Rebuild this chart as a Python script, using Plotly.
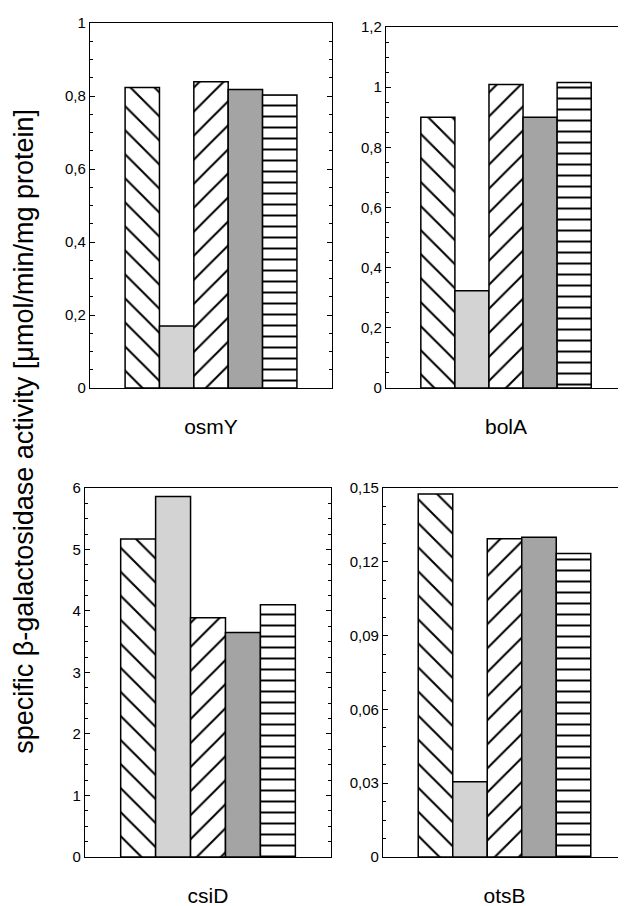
import plotly.graph_objects as go

# ---- data ----
genes = ["osmY", "bolA", "csiD", "otsB"]
osmY_vals = [0.823, 0.17, 0.839, 0.818, 0.803]
bolA_vals = [0.90, 0.323, 1.009, 0.90, 1.016]
csiD_vals = [5.17, 5.86, 3.89, 3.65, 4.10]
otsB_vals = [0.1476, 0.0306, 0.1294, 0.1300, 0.1234]
values = [osmY_vals, bolA_vals, csiD_vals, otsB_vals]

y_ranges = [[0, 1], [0, 1.2], [0, 6], [0, 0.15]]
y_dticks = [0.2, 0.2, 1, 0.03]
y_minor = [0.05, 0.05, 0.25, 0.0075]

y_title = "specific \u03b2-galactosidase activity [\u03bcmol/min/mg protein]"

# ---- styles per bar position ----
shapes = ["\\", "", "/", "", "-"]
fills = ["white", "#d3d3d3", "white", "#a4a4a4", "white"]
psizes = [17, 8, 17, 8, 11]
solid = [0.12, 0.2, 0.12, 0.2, 0.18]

# panel domains (paper coords)
x_domains = [[0.1327, 0.5243], [0.6117, 1.0], [0.1246, 0.5227], [0.6068, 1.0]]
y_domains = [[0.5768, 0.9833], [0.5768, 0.9788], [0.0546, 0.4655], [0.0546, 0.4655]]

FONT = "Liberation Sans, Arial, Helvetica, sans-serif"

fig = go.Figure()
for p, gene in enumerate(genes):
    xa = "x" if p == 0 else f"x{p+1}"
    ya = "y" if p == 0 else f"y{p+1}"
    for i, v in enumerate(values[p]):
        pattern = dict(shape=shapes[i], fgcolor="black", bgcolor=fills[i],
                       size=psizes[i], solidity=solid[i], fillmode="replace")
        fig.add_trace(go.Bar(
            x=[gene], y=[v], xaxis=xa, yaxis=ya,
            marker=dict(color=fills[i], pattern=pattern,
                        line=dict(color="black", width=1.5)),
            showlegend=False, hoverinfo="y",
        ))

layout = dict(
    template="none",
    width=618, height=898,
    margin=dict(l=0, r=0, t=0, b=0, pad=0, autoexpand=False),
    paper_bgcolor="white", plot_bgcolor="white",
    barmode="group", bargap=0.29, bargroupgap=0,
    separators=",.",
    font=dict(family=FONT, color="black"),
    showlegend=False,
)
for p in range(4):
    xk = "xaxis" if p == 0 else f"xaxis{p+1}"
    yk = "yaxis" if p == 0 else f"yaxis{p+1}"
    xa = "x" if p == 0 else f"x{p+1}"
    ya = "y" if p == 0 else f"y{p+1}"
    layout[xk] = dict(
        domain=x_domains[p], anchor=ya, automargin=False,
        showline=True, linecolor="black", linewidth=1.3, mirror=True,
        ticks="", showgrid=False, zeroline=False,
        tickfont=dict(size=21, family=FONT), ticklabelstandoff=20,
        fixedrange=True,
    )
    layout[yk] = dict(
        domain=y_domains[p], anchor=xa, range=y_ranges[p], automargin=False,
        dtick=y_dticks[p], tick0=0,
        showline=True, linecolor="black", linewidth=1.3, mirror="ticks",
        ticks="inside", ticklen=5, tickwidth=1.2, tickcolor="black",
        minor=dict(ticks="inside", dtick=y_minor[p], ticklen=3, tickwidth=1,
                   tickcolor="black", showgrid=False),
        showgrid=False, zeroline=False,
        tickfont=dict(size=15, family=FONT), ticklabelstandoff=0,
        fixedrange=True,
    )

layout["annotations"] = [dict(
    text=y_title, xref="paper", yref="paper", x=16 / 618, y=0.528,
    xanchor="center", yanchor="middle", textangle=-90, showarrow=False,
    font=dict(size=27, family=FONT, color="black"),
)]

fig.update_layout(**layout)
fig.write_html("out.html")
